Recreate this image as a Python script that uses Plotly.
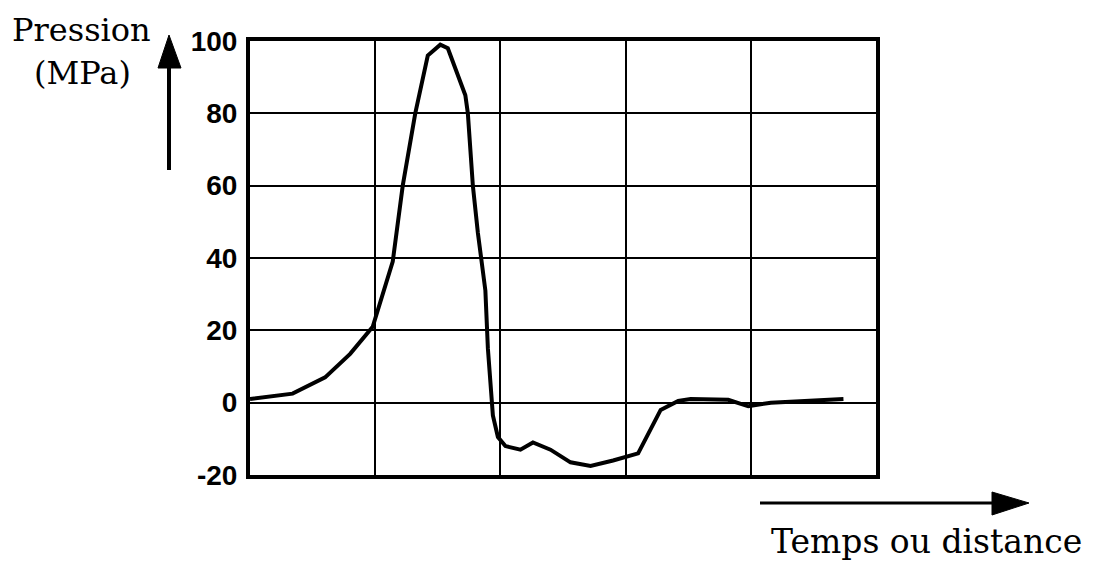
import plotly.graph_objects as go

# Data (x in grid columns, y in MPa)
temps = [0.0, 0.34, 0.6, 0.8, 0.98, 1.14, 1.22, 1.32, 1.42, 1.45, 1.52, 1.58, 1.68, 1.72,
         1.74, 1.78, 1.82, 1.88, 1.90, 1.94, 1.98, 2.04, 2.16, 2.26, 2.4, 2.56, 2.72,
         2.9, 3.1, 3.28, 3.42, 3.52, 3.82, 3.98, 4.16, 4.74]
pression = [1, 2.5, 7, 13.5, 21, 39, 60, 80, 96, 97, 99, 98, 89, 85,
            80, 60, 47, 31, 15, -3.5, -9.5, -12, -13, -11, -13, -16.5, -17.5,
            -16, -14, -2, 0.5, 1, 0.8, -1, 0, 1]
y_ticks = [-20, 0, 20, 40, 60, 80, 100]

W, H = 1106, 563
OFF = 8  # page body margin
L, R, T, B = 250, 876, 41, 475  # plot area in screen pixels


def px(x):
    return (x - L) / (R - L)


def py(y):
    return (B - y) / (B - T)


fig = go.Figure()
fig.add_trace(go.Scatter(x=temps, y=pression, mode="lines",
                         line=dict(color="black", width=4), showlegend=False,
                         hoverinfo="skip"))

serif = "DejaVu Serif"
fig.update_layout(
    width=W - OFF, height=H - OFF,
    margin=dict(l=L - OFF, r=W - R, t=T - OFF, b=H - B, pad=0),
    paper_bgcolor="white", plot_bgcolor="white",
    xaxis=dict(range=[0, 5], dtick=1, tick0=0, showgrid=True, gridcolor="black",
               gridwidth=2, showticklabels=False, ticks="", zeroline=False,
               showline=True, linecolor="black", linewidth=4, mirror=True),
    yaxis=dict(range=[-20, 100], tickvals=y_ticks, ticktext=[str(v) for v in y_ticks],
               showgrid=True, gridcolor="black", gridwidth=2, zeroline=False,
               showline=True, linecolor="black", linewidth=4, mirror=True,
               ticks="", ticklabelstandoff=3,
               tickfont=dict(family="Liberation Sans", size=28, color="black",
                             weight="bold")),
    font=dict(family=serif, color="black"),
)

fig.add_annotation(text="Pression", xref="paper", yref="paper", x=px(81), y=py(30),
                   xanchor="center", yanchor="middle", showarrow=False,
                   font=dict(family=serif, size=32, color="black"))
fig.add_annotation(text="(MPa)", xref="paper", yref="paper", x=px(83), y=py(73),
                   xanchor="center", yanchor="middle", showarrow=False,
                   font=dict(family=serif, size=32, color="black"))
fig.add_annotation(text="Temps ou distance", xref="paper", yref="paper", x=px(926), y=py(541),
                   xanchor="center", yanchor="middle", showarrow=False,
                   font=dict(family=serif, size=33, color="black"))

# vertical arrow
fig.add_shape(type="line", xref="paper", yref="paper", x0=px(169), x1=px(169),
              y0=py(170), y1=py(60), line=dict(color="black", width=4))
fig.add_shape(type="path", xref="paper", yref="paper",
              path=f"M {px(169)} {py(35)} L {px(158)} {py(68)} L {px(181)} {py(68)} Z",
              fillcolor="black", line=dict(color="black", width=1))
# horizontal arrow
fig.add_shape(type="line", xref="paper", yref="paper", x0=px(760), x1=px(1000),
              y0=py(503), y1=py(503), line=dict(color="black", width=3))
fig.add_shape(type="path", xref="paper", yref="paper",
              path=f"M {px(1029)} {py(503)} L {px(992)} {py(492)} L {px(992)} {py(515)} Z",
              fillcolor="black", line=dict(color="black", width=1))

fig.write_html("out.html")
